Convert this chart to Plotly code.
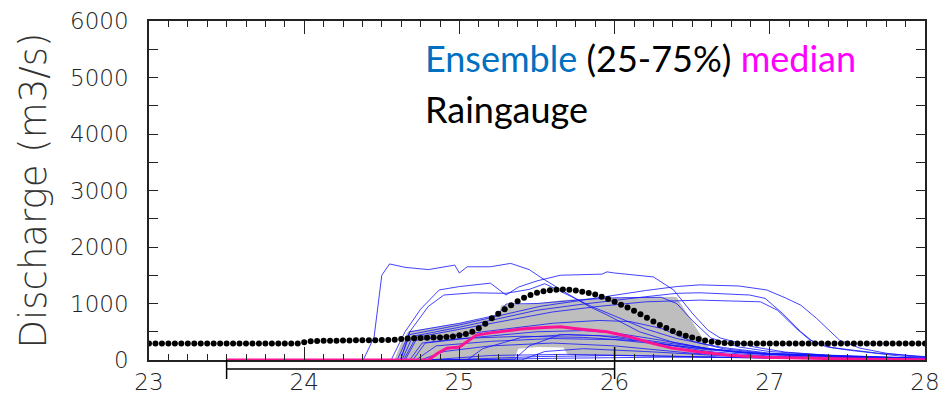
import plotly.graph_objects as go

# ---------------- data ----------------
rain_start_day = 23.0
rain_step_hours = 1
rain_values = [
    290, 290, 290, 290, 290, 290, 290, 290, 290, 290, 290, 290,
    290, 290, 290, 290, 290, 290, 290, 290, 290, 290, 290, 290,
    315, 330, 335, 340, 340, 342, 345, 345, 348, 350, 350, 350, 352,
    355, 360, 370, 380, 385, 390, 395, 400, 400, 405, 415,
    440, 460, 500, 560, 640, 740, 820, 900, 970, 1040, 1100, 1150,
    1190, 1215, 1235, 1245, 1250, 1245, 1230, 1210, 1185, 1160, 1120, 1080,
    1030, 980, 930, 870, 810, 750, 680, 620, 565, 515, 470, 430,
    400, 370, 345, 325, 310, 300, 295,
    290, 290, 290, 290, 290, 290, 290, 290, 290, 290, 290, 290, 290, 290, 290,
    290, 290, 290, 290, 290, 290, 290, 290, 290, 290, 290, 290, 290, 290, 290,
]
rain_days = [rain_start_day + h * rain_step_hours / 24 for h in range(len(rain_values))]

band_days = [24.58, 24.625, 24.67, 24.75, 25.0, 25.25, 25.27, 25.35, 25.38, 25.5, 25.67, 25.7,
             25.83, 26.0, 26.17, 26.37, 26.4, 26.44, 26.48, 26.52, 26.56, 26.6, 26.65]
band_p75 = [0, 300, 510, 540, 650, 780, 970, 985, 990, 1000, 1060, 1065,
            1090, 1100, 1110, 1120, 1110, 940, 760, 580, 410, 250, 100]
band_p25 = [0, 0, 0, 0, 0, 0, 0, 0, 200, 230, 220, 90,
            80, 80, 70, 60, 60, 50, 50, 50, 50, 50, 50]

median_days = [23.5, 24.8, 24.86, 24.92, 25.0, 25.05, 25.11, 25.2, 25.3, 25.4, 25.52, 25.65,
               25.77, 25.95, 26.03, 26.11, 26.25, 26.37, 26.55, 26.74, 26.96, 27.28, 27.6, 28.0]
median_values = [0, 0, 120, 210, 230, 320, 440, 480, 520, 550, 570, 590,
                 550, 500, 450, 400, 290, 210, 140, 85, 50, 25, 12, 5]

member_days = [
    [23.5, 24.38, 24.45, 24.5, 24.55, 24.65, 24.8, 24.9, 24.97, 25.0, 25.05, 25.2, 25.33, 25.45, 25.52,
     25.65, 25.84, 25.95, 26.16, 26.37, 26.6, 27.0, 27.5, 28.0],
    [23.5, 24.56, 24.65, 24.75, 24.87, 25.0, 25.2, 25.3, 25.38, 25.5, 25.65, 25.92, 25.95, 26.0, 26.25,
     26.38, 26.5, 26.6, 26.68, 26.9, 27.1, 27.5, 28.0],
    [23.5, 24.6, 24.68, 24.8, 24.9, 25.09, 25.3, 25.45, 25.55, 25.7, 25.85, 26.0, 26.2, 26.4, 26.7, 27.0, 28.0],
    [23.5, 24.62, 24.68, 25.0, 25.25, 25.52, 25.77, 26.0, 26.2, 26.4, 26.55, 26.8, 26.98, 27.1, 27.2,
     27.3, 27.45, 27.58, 27.75, 28.0],
    [23.5, 24.63, 24.7, 25.0, 25.25, 25.5, 25.77, 26.0, 26.2, 26.4, 26.55, 26.87, 26.97, 27.08, 27.2,
     27.28, 27.37, 27.52, 27.84, 28.0],
    [23.5, 24.64, 24.72, 25.0, 25.3, 25.6, 25.9, 26.2, 26.55, 26.94, 27.05, 27.17, 27.26, 27.4, 27.7, 28.0],
    [23.5, 24.62, 24.68, 25.0, 25.25, 25.3, 25.5, 25.8, 26.0, 26.3, 26.4, 26.5, 26.62, 26.8, 27.0, 27.5, 28.0],
    [23.5, 24.65, 24.72, 25.0, 25.3, 25.6, 25.9, 26.1, 26.3, 26.5, 26.7, 27.0, 28.0],
    [23.5, 24.7, 24.78, 25.1, 25.5, 25.8, 26.0, 26.3, 26.6, 27.0, 28.0],
    [23.5, 25.05, 25.15, 25.4, 25.7, 26.0, 26.4, 26.8, 28.0],
    [23.5, 25.35, 25.45, 25.65, 25.9, 26.2, 26.6, 27.0, 28.0],
    [23.5, 24.75, 24.9, 25.2, 25.6, 26.0, 26.5, 27.0, 28.0],
    [23.5, 25.4, 25.55, 25.8, 26.2, 26.8, 28.0],
    [23.5, 24.8, 25.2, 25.7, 26.3, 27.0, 28.0],
    [23.5, 24.9, 25.5, 26.0, 26.5, 27.0, 28.0],
    [23.5, 25.0, 25.6, 26.3, 27.0, 28.0],
    [23.5, 24.68, 24.76, 25.0, 25.4, 25.8, 26.2, 26.6, 27.0, 28.0],
    [23.5, 24.72, 24.85, 25.2, 25.6, 26.0, 26.4, 26.9, 28.0],
]
member_values = [
    [0, 0, 400, 1500, 1700, 1640, 1600, 1640, 1680, 1540, 1650, 1650, 1710, 1600, 1470,
     1250, 940, 800, 500, 320, 200, 100, 50, 25],
    [0, 0, 500, 900, 1240, 1300, 1360, 1150, 1290, 1400, 1500, 1520, 1560, 1540, 1470,
     1240, 830, 530, 390, 230, 140, 60, 20],
    [0, 0, 500, 950, 1150, 1190, 1180, 1250, 1350, 1150, 950, 780, 550, 380, 220, 120, 30],
    [0, 0, 450, 620, 780, 950, 1050, 1150, 1230, 1300, 1330, 1310, 1240, 1100, 970,
     740, 350, 210, 120, 50],
    [0, 0, 420, 580, 730, 880, 980, 1060, 1120, 1180, 1190, 1150, 1090, 830, 500,
     320, 230, 170, 70, 50],
    [0, 0, 400, 540, 700, 850, 950, 1030, 1060, 1030, 880, 560, 350, 220, 120, 60],
    [0, 0, 500, 650, 800, 990, 1000, 1070, 1100, 1110, 1000, 700, 390, 230, 150, 60, 20],
    [0, 0, 350, 450, 550, 650, 700, 680, 560, 330, 200, 110, 30],
    [0, 0, 300, 400, 500, 520, 480, 350, 200, 100, 30],
    [0, 0, 200, 400, 450, 420, 280, 130, 20],
    [0, 0, 250, 450, 430, 330, 150, 70, 20],
    [0, 0, 150, 250, 300, 250, 120, 60, 20],
    [0, 0, 150, 200, 150, 60, 10],
    [0, 0, 80, 100, 70, 30, 10],
    [0, 0, 60, 80, 60, 40, 20],
    [0, 0, 30, 50, 40, 30],
    [0, 0, 300, 380, 420, 400, 330, 180, 90, 25],
    [0, 0, 250, 330, 380, 360, 250, 110, 15],
]

forecast_start = 23.5
forecast_end = 26.0

x_range = [23, 28]
y_range = [0, 6000]
x_ticks = [23, 24, 25, 26, 27, 28]
y_ticks = [0, 1000, 2000, 3000, 4000, 5000, 6000]

# ---------------- figure ----------------
fig = go.Figure()

fig.add_trace(go.Scatter(x=band_days, y=band_p25, mode="lines",
                         line=dict(width=0, color="rgba(0,0,0,0)"), showlegend=False,
                         hoverinfo="skip"))
fig.add_trace(go.Scatter(x=band_days, y=band_p75, mode="lines", fill="tonexty",
                         fillcolor="rgb(190,190,190)", line=dict(width=0, color="rgba(0,0,0,0)"),
                         showlegend=False, hoverinfo="skip"))

for d, v in zip(member_days, member_values):
    fig.add_trace(go.Scatter(x=d, y=v, mode="lines",
                             line=dict(width=1, color="rgba(20,20,255,0.8)"),
                             showlegend=False))

fig.add_trace(go.Scatter(x=median_days, y=median_values, mode="lines",
                         line=dict(width=3, color="#ff1493"), showlegend=False))

fig.add_trace(go.Scatter(x=rain_days, y=rain_values, mode="markers",
                         marker=dict(size=6, color="black"), showlegend=False, cliponaxis=True))

# forecast bracket below the axis
def px(v):
    return (v - x_range[0]) / (x_range[1] - x_range[0])

plot_top, plot_bottom = 21, 360

def py(p):
    return (plot_bottom - p) / (plot_bottom - plot_top)

bracket = dict(color="black", width=1.5)
fig.add_shape(type="line", xref="paper", yref="paper", x0=px(forecast_start), x1=px(forecast_end),
              y0=py(369), y1=py(369), line=bracket)
fig.add_shape(type="line", xref="paper", yref="paper", x0=px(forecast_start), x1=px(forecast_start),
              y0=py(360), y1=py(379), line=bracket)
fig.add_shape(type="line", xref="paper", yref="paper", x0=px(forecast_end), x1=px(forecast_end),
              y0=py(347), y1=py(379), line=bracket)

legend_font = "Lato"
legend_x = (423 - 149) / 776
fig.add_annotation(xref="paper", yref="paper", x=legend_x, y=py(58),
                   xanchor="left", yanchor="middle", showarrow=False,
                   text="<span style='color:#0070C0'>Ensemble</span> (25-75%) "
                        "<span style='color:#FF00FF'>median</span>",
                   font=dict(family=legend_font, size=36, color="black"))
fig.add_annotation(xref="paper", yref="paper", x=legend_x, y=py(109),
                   xanchor="left", yanchor="middle", showarrow=False,
                   text="Raingauge", font=dict(family=legend_font, size=36, color="black"))

fig.add_annotation(xref="paper", yref="paper", x=(33 - 149) / 776, y=0.5,
                   xanchor="center", yanchor="middle", showarrow=False, textangle=-90,
                   text="Discharge (m3/s)",
                   font=dict(family="DejaVu Sans", size=37, color="#333333", weight=200))

tick_font = dict(family="DejaVu Sans", size=23, color="#222222", weight=200)
axis_common = dict(showline=True, linecolor="#222222", linewidth=1.5, mirror="ticks",
                   ticks="inside", tickcolor="#222222", showgrid=False, zeroline=False,
                   tickfont=tick_font, automargin=False)

fig.update_xaxes(range=x_range, tickmode="array", tickvals=x_ticks,
                 ticktext=[str(t) for t in x_ticks], ticklen=13, tickwidth=1.2,
                 ticklabelstandoff=1,
                 minor=dict(dtick=0.125, ticklen=6, tickcolor="#222222", ticks="inside",
                            tickwidth=1.2, showgrid=False),
                 **axis_common)
fig.update_yaxes(range=y_range, tickmode="array", tickvals=y_ticks,
                 ticktext=[str(t) for t in y_ticks], ticklen=9, tickwidth=1.2,
                 ticklabelstandoff=14,
                 minor=dict(dtick=500, ticklen=9, tickcolor="#222222", ticks="inside",
                            tickwidth=1.2, showgrid=False),
                 **axis_common)

fig.update_layout(width=949, height=398, margin=dict(l=149, r=24, t=21, b=38),
                  plot_bgcolor="white", paper_bgcolor="white", showlegend=False)

fig.write_html("out.html")
